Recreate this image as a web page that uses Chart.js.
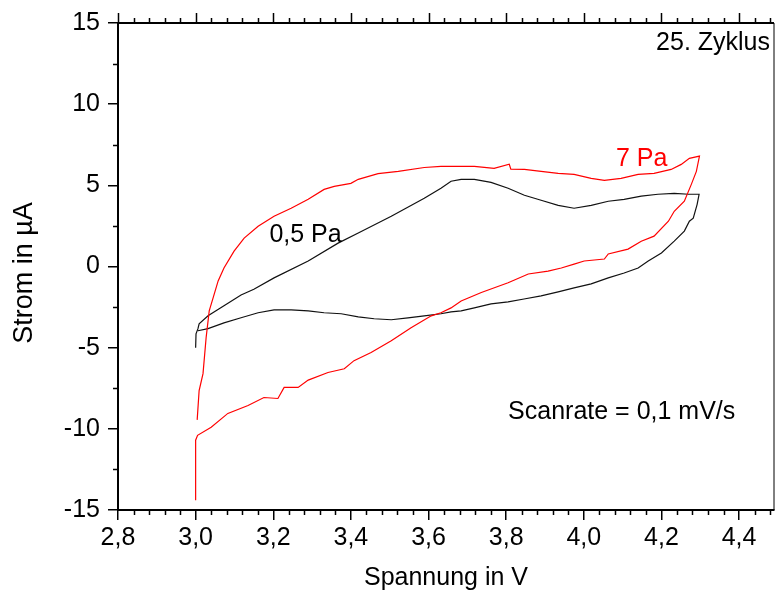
<!DOCTYPE html>
<html>
<head>
<meta charset="utf-8">
<script src="https://cdn.jsdelivr.net/npm/chart.js@4.4.1/dist/chart.umd.min.js"></script>
<style>
  html, body { margin: 0; padding: 0; background: #fff; }
</style>
</head>
<body>
<canvas id="cv" width="776" height="592"></canvas>
<script>
// 7 Pa (red)
let redV = [3.000, 3.000, 3.005, 3.040, 3.083, 3.135, 3.176, 3.212, 3.228, 3.264, 3.290, 3.341, 3.383, 3.408, 3.452, 3.504, 3.555, 3.607, 3.632, 3.658, 3.684, 3.736, 3.805, 3.857, 3.908, 3.942, 3.975, 4.001, 4.053, 4.063, 4.114, 4.148, 4.181, 4.218, 4.233, 4.259, 4.277, 4.290, 4.298,
  4.272, 4.251, 4.225, 4.181, 4.140, 4.096, 4.053, 4.019, 3.975, 3.934, 3.890, 3.847, 3.812, 3.808, 3.769, 3.718, 3.676, 3.632, 3.589, 3.522, 3.470, 3.419, 3.400, 3.357, 3.331, 3.290, 3.246, 3.202, 3.161, 3.125, 3.099, 3.073, 3.058, 3.045, 3.035, 3.027, 3.019, 3.009, 3.004];
let redI = [-14.4, -10.7, -10.4, -9.9, -9.05, -8.56, -8.07, -8.13, -7.45, -7.45, -7.0, -6.53, -6.3, -5.8, -5.3, -4.57, -3.77, -3.04, -2.85, -2.55, -2.12, -1.6, -1.0, -0.46, -0.28, -0.09, 0.15, 0.34, 0.46, 0.77, 1.07, 1.56, 1.87, 2.79, 3.40, 4.02, 5.06, 5.86, 6.8,
  6.66, 6.29, 5.98, 5.74, 5.67, 5.43, 5.30, 5.43, 5.67, 5.74, 5.86, 5.98, 6.0, 6.3, 6.04, 6.17, 6.17, 6.17, 6.10, 5.86, 5.72, 5.37, 5.12, 4.94, 4.75, 4.14, 3.59, 3.10, 2.48, 1.75, 0.95, -0.09, -0.89, -1.93, -2.73, -4.39, -6.6, -7.64, -9.45];

// 0,5 Pa (black)
let blackV = [3.000, 3.001, 3.006, 3.009, 3.032, 3.073, 3.117, 3.150, 3.202, 3.290, 3.367, 3.419, 3.504, 3.589, 3.632, 3.658, 3.684, 3.718, 3.761, 3.805, 3.847, 3.890, 3.934, 3.975, 4.019, 4.063, 4.104, 4.148, 4.191, 4.233, 4.270, 4.297,
  4.292, 4.282, 4.272, 4.259, 4.233, 4.200, 4.166, 4.140, 4.104, 4.063, 4.019, 3.975, 3.934, 3.890, 3.846, 3.805, 3.761, 3.718, 3.684, 3.658, 3.632, 3.589, 3.547, 3.504, 3.460, 3.419, 3.375, 3.331, 3.290, 3.246, 3.202, 3.161, 3.117, 3.073, 3.032, 3.006];
let blackI = [-5.0, -4.15, -3.83, -3.53, -3.04, -2.42, -1.75, -1.4, -0.7, 0.34, 1.44, 2.06, 3.1, 4.2, 4.82, 5.25, 5.37, 5.37, 5.18, 4.82, 4.39, 4.08, 3.77, 3.59, 3.77, 4.02, 4.14, 4.33, 4.45, 4.51, 4.45, 4.45,
  3.83, 2.98, 2.79, 2.18, 1.56, 0.83, 0.34, -0.09, -0.4, -0.7, -1.07, -1.32, -1.56, -1.81, -2.0, -2.18, -2.3, -2.55, -2.73, -2.79, -2.91, -3.04, -3.16, -3.28, -3.22, -3.10, -2.91, -2.85, -2.73, -2.67, -2.67, -2.85, -3.16, -3.47, -3.83, -3.96];

let xTicks = [2.8, 3.0, 3.2, 3.4, 3.6, 3.8, 4.0, 4.2, 4.4];
let yTicks = [-15, -10, -5, 0, 5, 10, 15];

function toPoints(xs, ys) {
  return xs.map(function(v, i) { return {x: v, y: ys[i]}; });
}

let fontFam = "'Liberation Sans', Arial, sans-serif";

//frame, minor ticks, titles, labels
let framePlugin = {
  id: 'frame',
  afterDraw: function(chart) {
    let ctx = chart.ctx;
    let a = chart.chartArea;
    let xs = chart.scales.x;
    let ys = chart.scales.y;
    ctx.save();
    ctx.strokeStyle = '#000';
    // top + right border
    ctx.lineWidth = 2;
    ctx.beginPath();
    ctx.moveTo(a.left, a.top);
    ctx.lineTo(a.right, a.top);
    ctx.stroke();
    ctx.lineWidth = 1;
    ctx.beginPath();
    ctx.moveTo(a.right, a.top);
    ctx.lineTo(a.right, a.bottom);
    ctx.stroke();

    ctx.lineWidth = 1.5;
    ctx.beginPath();
    for (let k = 0; k <= 42; k++) {
      let v = 2.8 + k * 0.04;
      let px = Math.round(xs.getPixelForValue(v)) + 0.5;
      let len = (k % 5 == 0) ? 10 : 5;
      ctx.moveTo(px, a.top);
      ctx.lineTo(px, a.top - len);
      if (k % 5 != 0) {
        ctx.moveTo(px, a.bottom);
        ctx.lineTo(px, a.bottom + 5);
      }
    }
    for (let k = 0; k <= 12; k++) {
      if (k % 2 == 0) continue;
      let py = Math.round(ys.getPixelForValue(-15 + k * 2.5)) + 0.5;
      ctx.moveTo(a.left, py);
      ctx.lineTo(a.left - 5, py);
    }
    ctx.stroke();

    ctx.fillStyle = '#000';
    ctx.textBaseline = 'middle';
    ctx.textAlign = 'center';
    ctx.font = '25px ' + fontFam;
    ctx.fillText('Spannung in V', (a.left + a.right) / 2, 578);
    ctx.save();
    ctx.translate(25, 273);
    ctx.rotate(-Math.PI / 2);
    ctx.font = '27px ' + fontFam;
    ctx.fillText('Strom in µA', 0, 0);
    ctx.restore();

    ctx.font = '25px ' + fontFam;
    ctx.textAlign = 'right';
    ctx.fillText('25. Zyklus', a.right - 4, a.top + 20);
    ctx.textAlign = 'left';
    ctx.fillText('0,5 Pa', xs.getPixelForValue(3.19), ys.getPixelForValue(1.95));
    ctx.fillText('Scanrate = 0,1 mV/s', xs.getPixelForValue(3.805), ys.getPixelForValue(-9.0));
    ctx.fillStyle = '#ff0000';
    ctx.fillText('7 Pa', xs.getPixelForValue(4.083), ys.getPixelForValue(6.6));
    ctx.restore();
  }
};

new Chart(document.getElementById("cv"), {
  type: 'scatter',
  data: {
    datasets: [
      {
        label: "7 Pa",
        data: toPoints(redV, redI),
        showLine: true,
        borderColor: '#ff0000',
        borderWidth: 1.2,
        pointRadius: 0,
        tension: 0
      },
      {
        label: "0,5 Pa",
        data: toPoints(blackV, blackI),
        showLine: true,
        borderColor: '#111111',
        borderWidth: 1.2,
        pointRadius: 0,
        tension: 0
      }
    ]
  },
  options: {
    responsive: false,
    animation: false,
    layout: { padding: { top: 21, right: 2, left: 0, bottom: 0 } },
    scales: {
      x: {
        type: 'linear',
        min: 2.8,
        max: 4.49,
        afterBuildTicks: function(s) { s.ticks = xTicks.map(function(v) { return {value: v}; }); },
        afterFit: function(s) { s.height = 82; },
        ticks: {
          color: '#000',
          padding: 3,
          maxRotation: 0,
          font: { size: 25, family: fontFam },
          callback: function(v) { return v.toFixed(1).replace('.', ','); }
        },
        grid: { drawOnChartArea: false, tickLength: 10, color: '#000', lineWidth: 1.5 },
        border: { color: '#000', width: 2 }
      },
      y: {
        min: -15,
        max: 15,
        afterBuildTicks: function(s) { s.ticks = yTicks.map(function(v) { return {value: v}; }); },
        afterFit: function(s) { s.width = 118; },
        ticks: {
          color: '#000',
          padding: 8,
          font: { size: 25, family: fontFam },
          callback: function(v) { return String(v); }
        },
        grid: { drawOnChartArea: false, tickLength: 10, color: '#000', lineWidth: 1.5 },
        border: { color: '#000', width: 2 }
      }
    },
    plugins: {
      legend: false,
      tooltip: { enabled: false }
    }
  },
  plugins: [framePlugin]
});
</script>
</body>
</html>
